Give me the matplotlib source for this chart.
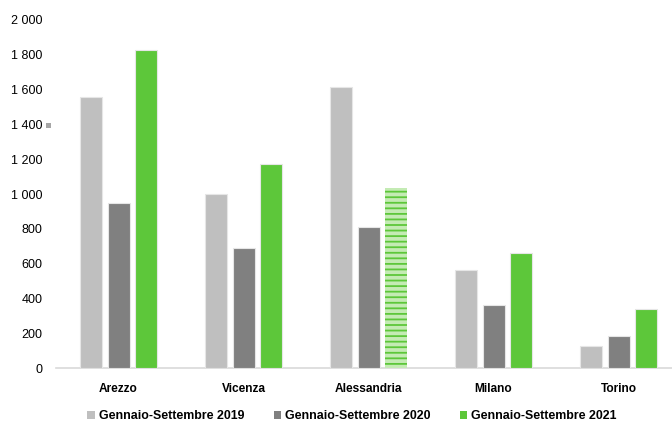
import matplotlib
matplotlib.use('Agg')
import matplotlib.pyplot as plt
from matplotlib.ticker import FuncFormatter
import numpy as np

plt.rcParams['font.family'] = ['Liberation Sans', 'DejaVu Sans']
plt.rcParams['hatch.linewidth'] = 1.3

# Dati
citta = ['Arezzo', 'Vicenza', 'Alessandria', 'Milano', 'Torino']
serie = ['Gennaio-Settembre 2019', 'Gennaio-Settembre 2020', 'Gennaio-Settembre 2021']
v2019 = [1556, 1002, 1615, 565, 124]
v2020 = [948, 688, 810, 364, 182]
v2021 = [1826, 1171, 1033, 661, 337]

colori = ['#BFBFBF', '#808080', '#5DC73A']

fig = plt.figure(figsize=(6.72, 4.23), dpi=100)
ax = fig.add_axes([56 / 672, 1 - 368 / 423, 625 / 672, 348 / 423])

x = np.arange(len(citta))
w = 0.176
off = 0.2216

for i, (vals, col) in enumerate(zip([v2019, v2020, v2021], colori)):
    bars = ax.bar(x + (i - 1) * off, vals, width=w, color=col,
                  edgecolor='#E6E6E6', linewidth=0.8, label=serie[i], zorder=3)
    if i == 2:
        # Alessandria 2021 tratteggiata
        b = bars[2]
        b.set_facecolor('#C4EBB4')
        b.set_hatch('---')
        b.set_edgecolor('#5DC73A')
        b.set_linewidth(0)

ax.set_xlim(-0.5, len(citta) - 0.5)
ax.set_ylim(0, 2000)
ax.set_yticks(range(0, 2001, 200))
ax.yaxis.set_major_formatter(FuncFormatter(lambda v, p: f'{int(v):,}'.replace(',', ' ')))
ax.set_xticks(x)
ax.set_xticklabels(citta, fontweight='bold', fontsize=8.6)

for s in ['top', 'right', 'left']:
    ax.spines[s].set_visible(False)
ax.spines['bottom'].set_color('#D9D9D9')
ax.spines['bottom'].set_linewidth(1.2)
ax.tick_params(axis='y', length=0, pad=9.5, labelsize=9, labelcolor='#000000')
ax.tick_params(axis='x', length=0, pad=11)

# piccolo marcatore grigio vicino a 1 400
fig.patches.append(plt.Rectangle((46 / 672, 1 - 128 / 423), 5 / 672, 5 / 423,
                                 transform=fig.transFigure, facecolor='#A6A6A6',
                                 edgecolor='none', figure=fig))

handles, labels = ax.get_legend_handles_labels()
leg = fig.legend(handles, labels, loc='center', ncol=3, frameon=False,
                 bbox_to_anchor=(352 / 672, 1 - 416 / 423),
                 prop={'weight': 'bold', 'size': 8.9},
                 handlelength=0.6, handleheight=0.6, handletextpad=0.3, columnspacing=2.4)
for h in leg.legend_handles:
    h.set_hatch(None)
    h.set_linewidth(0)
leg.legend_handles[2].set_facecolor('#5DC73A')

fig.savefig('out.png', dpi=100)
